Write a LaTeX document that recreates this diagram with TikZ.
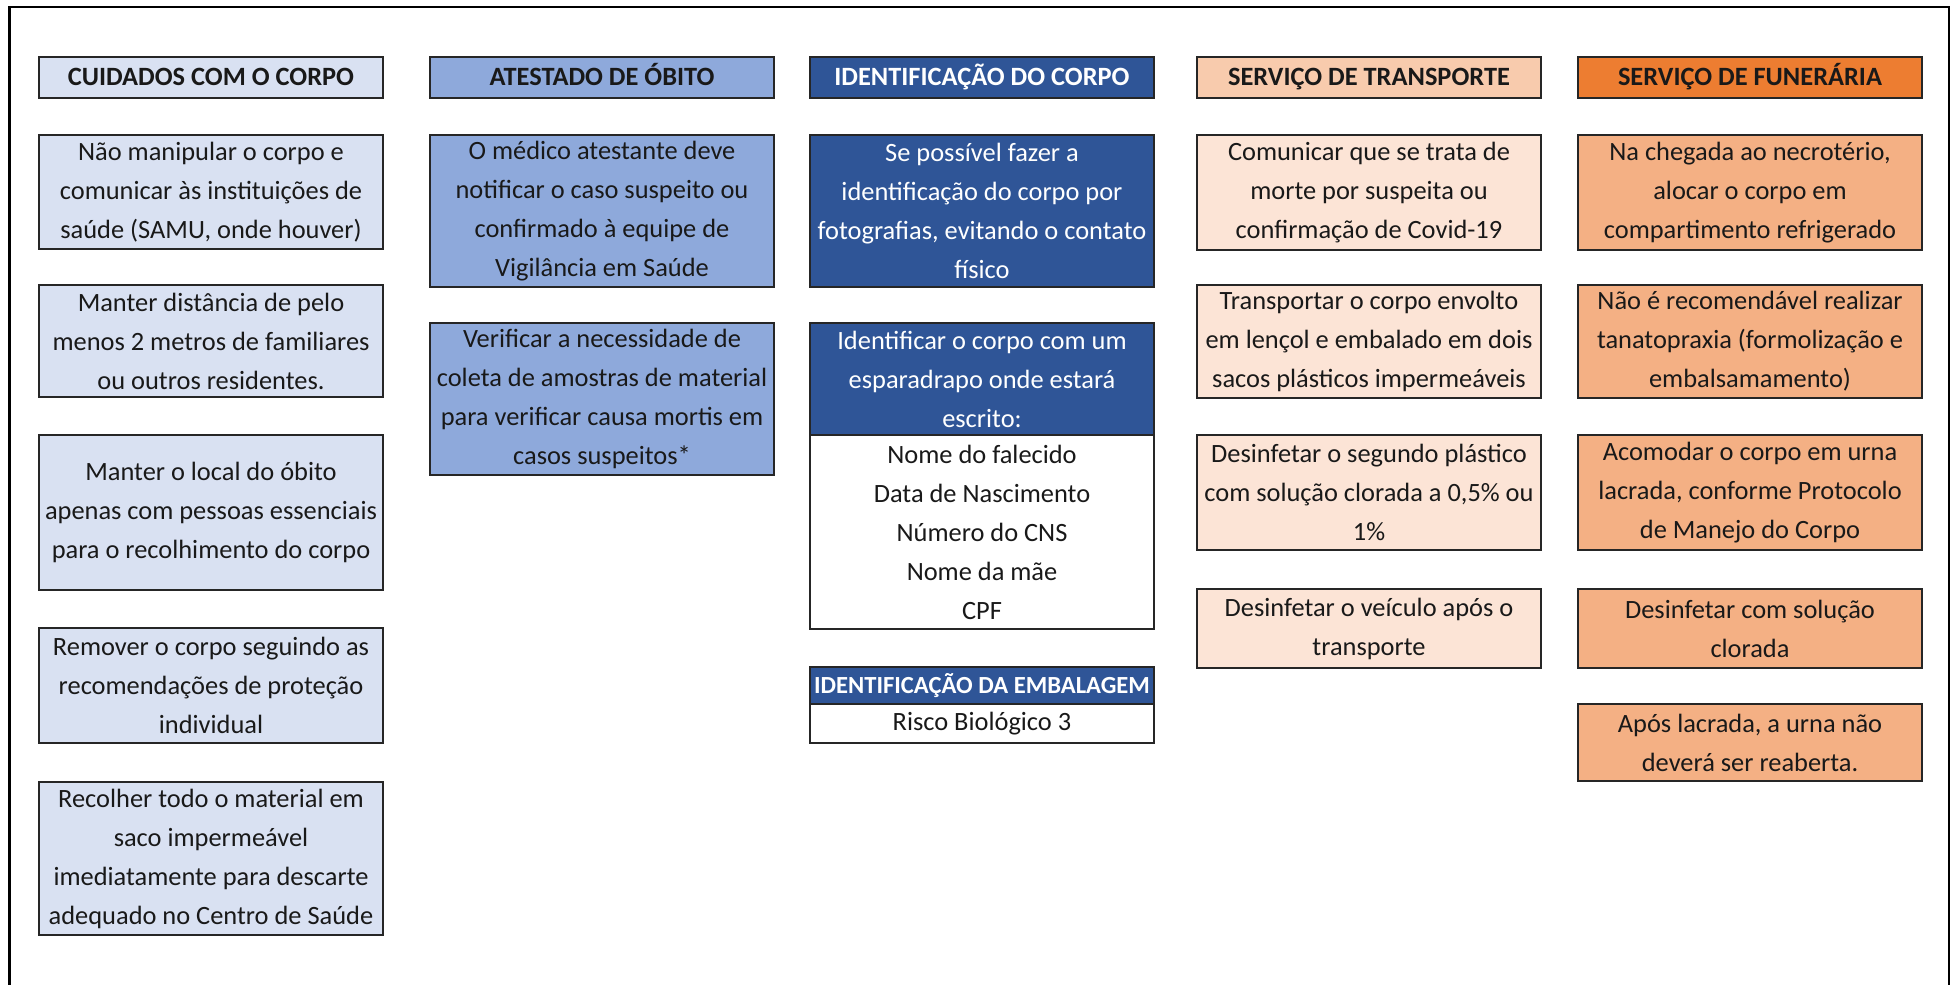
\documentclass[tikz,border=0pt]{standalone}
\usepackage{fontspec}
\setmainfont{Carlito}
\usetikzlibrary{positioning}
\definecolor{cline}{HTML}{262626}
\definecolor{cblueA}{HTML}{D9E1F2}
\definecolor{cblueB}{HTML}{8EA9DB}
\definecolor{cblueC}{HTML}{2F5597}
\definecolor{corangeA}{HTML}{F8CBAD}
\definecolor{corangeB}{HTML}{FCE4D6}
\definecolor{corangeC}{HTML}{ED7D31}
\definecolor{corangeD}{HTML}{F4B084}
\tikzset{
  every picture/.style={line width=1pt},
  cell/.style={draw=cline, fill=#1, align=center, anchor=north west, inner sep=0pt,
    minimum width=172pt, font=\fontsize{13.2}{19.5}\selectfont, text=black!90},
  cell/.default=white,
  head/.style={cell=#1, minimum height=20.5pt, text height=10pt, text depth=2pt,
    font=\fontsize{13.2}{16}\selectfont\bfseries},
  dark/.style={cell=cblueC, text=white},
}
\begin{document}
\begin{tikzpicture}[x=0.5pt, y=-0.5pt]
  \useasboundingbox (0,0) rectangle (1951,985);
  % frame
  \draw[black, line width=1.1pt] (9.5,985) |- (1949,7) -- (1949,985);
  % headers
  \node[head=cblueA] (h1) at (38,56) {CUIDADOS COM O CORPO};
  \node[head=cblueB] (h2) at (429,56) {ATESTADO DE ÓBITO};
  \node[head=cblueC, text=white] (h3) at (809,56) {IDENTIFICAÇÃO DO CORPO};
  \node[head=corangeA] (h4) at (1196,56) {SERVIÇO DE TRANSPORTE};
  \node[head=corangeC] (h5) at (1577,56) {SERVIÇO DE FUNERÁRIA};
  % cuidados com o corpo
  \node[cell=cblueA, minimum height=57pt] (c1a) at (38,134) {Não manipular o corpo e\\comunicar às instituições de\\saúde (SAMU, onde houver)};
  \node[cell=cblueA, minimum height=56pt] (c1b) at (38,284) {Manter distância de pelo\\menos 2 metros de familiares\\ou outros residentes.};
  \node[cell=cblueA, minimum height=77.5pt] (c1c) at (38,434) {Manter o local do óbito\\apenas com pessoas essenciais\\para o recolhimento do corpo};
  \node[cell=cblueA, minimum height=57.5pt] (c1d) at (38,627) {Remover o corpo seguindo as\\recomendações de proteção\\individual};
  \node[cell=cblueA, minimum height=76.5pt] (c1e) at (38,781) {Recolher todo o material em\\saco impermeável\\imediatamente para descarte\\adequado no Centro de Saúde};
  % atestado de obito
  \node[cell=cblueB, minimum height=76pt] (c2a) at (429,134) {O médico atestante deve\\notificar o caso suspeito ou\\confirmado à equipe de\\Vigilância em Saúde};
  \node[cell=cblueB, minimum height=76pt] (c2b) at (429,322) {Verificar a necessidade de\\coleta de amostras de material\\para verificar causa mortis em\\casos suspeitos*};
  % identificacao do corpo
  \node[dark, minimum height=76pt] (c3a) at (809,134) {Se possível fazer a\\identificação do corpo por\\fotografias, evitando o contato\\físico};
  \node[dark, minimum height=56pt] (c3b) at (809,322) {Identificar o corpo com um\\esparadrapo onde estará\\escrito:};
  \node[cell, minimum height=97pt] (c3c) at (809,434) {Nome do falecido\\Data de Nascimento\\Número do CNS\\Nome da mãe\\CPF};
  \node[head=cblueC, text=white, minimum height=18.5pt, font=\fontsize{12.3}{15}\selectfont\bfseries] (c3d) at (809,666) {IDENTIFICAÇÃO DA EMBALAGEM};
  \node[cell, minimum height=19.5pt] (c3e) at (809,703) {Risco Biológico 3};
  % servico de transporte
  \node[cell=corangeB, minimum height=57.5pt] (c4a) at (1196,134) {Comunicar que se trata de\\morte por suspeita ou\\confirmação de Covid-19};
  \node[cell=corangeB, minimum height=56.5pt] (c4b) at (1196,284) {Transportar o corpo envolto\\em lençol e embalado em dois\\sacos plásticos impermeáveis};
  \node[cell=corangeB, minimum height=57.5pt] (c4c) at (1196,434) {Desinfetar o segundo plástico\\com solução clorada a 0,5\% ou\\1\%};
  \node[cell=corangeB, minimum height=39.5pt] (c4d) at (1196,588) {Desinfetar o veículo após o\\transporte};
  % servico de funeraria
  \node[cell=corangeD, minimum height=57.5pt] (c5a) at (1577,134) {Na chegada ao necrotério,\\alocar o corpo em\\compartimento refrigerado};
  \node[cell=corangeD, minimum height=56.5pt] (c5b) at (1577,284) {Não é recomendável realizar\\tanatopraxia (formolização e\\embalsamamento)};
  \node[cell=corangeD, minimum height=57.5pt] (c5c) at (1577,434) {Acomodar o corpo em urna\\lacrada, conforme Protocolo\\de Manejo do Corpo};
  \node[cell=corangeD, minimum height=39.5pt] (c5d) at (1577,588) {Desinfetar com solução\\clorada};
  \node[cell=corangeD, minimum height=38.5pt] (c5e) at (1577,703) {Após lacrada, a urna não\\deverá ser reaberta.};
\end{tikzpicture}
\end{document}
